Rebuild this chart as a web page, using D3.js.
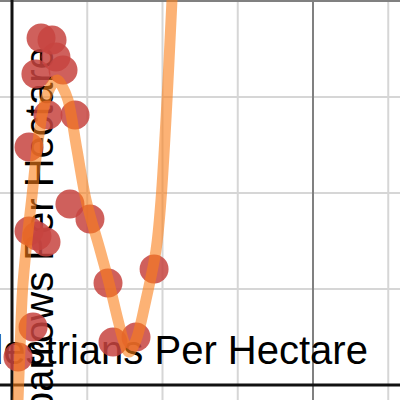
<!DOCTYPE html>
<html>
<head>
<meta charset="utf-8">
<script src="https://cdn.jsdelivr.net/npm/d3@7"></script>
<style>
  body { margin: 0; background: #fff; }
  svg { display: block; }
  .axisLabel { font-family: "Liberation Sans", Arial, sans-serif; font-size: 40px; fill: #000; }
</style>
</head>
<body>
<div id="chart"></div>
<script>
var width = 400;
var height = 400;

// observations
var pedestrians = [1.93, 2.66, 2.92, 3.39, 1.59, 2.39, 4.19, 1.13, 3.85, 5.18, 1.13, 1.66, 2.26, 6.38, 9.44, 1.40, 0.40, 6.71, 8.24];
var sparrows    = [18.07, 17.97, 17.08, 16.41, 16.20, 14.06, 14.06, 12.40, 9.43, 8.65, 8.02, 7.76, 7.45, 5.31, 6.04, 3.02, 1.46, 2.24, 2.50];

// regression curve, points
var fitX = [0.36, 0.40, 0.53, 0.70, 1.00, 1.30, 1.66, 2.06, 2.52, 2.99, 3.39, 3.72, 4.32, 4.92, 5.85, 6.45, 7.04, 7.44, 7.77, 8.24, 8.90, 9.57, 9.90, 10.30, 10.63, 10.73];
var fitY = [-2.0, -0.78, 1.82, 4.95, 7.55, 9.64, 12.24, 14.32, 15.47, 15.89, 15.47, 14.84, 12.24, 9.64, 7.03, 5.31, 3.39, 2.24, 1.72, 2.34, 4.43, 7.03, 9.64, 14.84, 20.05, 21.6];

var minorTicks = [-5, 5, 10, 15, 25];
var majorTicks = [20];

var xLabel = "Pedestrians Per Hectare";
var yLabel = "Sparrows Per Hectare";

var x = d3.scaleLinear().domain([0, 20]).range([12, 313]);
var y = d3.scaleLinear().domain([0, 20]).range([385, 1]);

var svg = d3.select("#chart").append("svg")
  .attr("width", width)
  .attr("height", height)

// grid
var grid = svg.append("g").attr("class", "grid")
grid.selectAll(".minorX").data(minorTicks).enter().append("line")
  .attr("x1", function(d){ return x(d) }).attr("x2", function(d){ return x(d) })
  .attr("y1", 0).attr("y2", height)
  .attr("stroke", "#d6d6d6").attr("stroke-width", 2)
grid.selectAll(".minorY").data(minorTicks).enter().append("line")
  .attr("y1", function(d){ return y(d) }).attr("y2", function(d){ return y(d) })
  .attr("x1", 0).attr("x2", width)
  .attr("stroke", "#d6d6d6").attr("stroke-width", 2)
grid.selectAll(".majorX").data(majorTicks).enter().append("line")
  .attr("x1", function(d){ return x(d) }).attr("x2", function(d){ return x(d) })
  .attr("y1", 0).attr("y2", height)
  .attr("stroke", "#808080").attr("stroke-width", 2)
grid.selectAll(".majorY").data(majorTicks).enter().append("line")
  .attr("y1", function(d){ return y(d) }).attr("y2", function(d){ return y(d) })
  .attr("x1", 0).attr("x2", width)
  .attr("stroke", "#808080").attr("stroke-width", 2)

// axes
svg.append("line")
  .attr("x1", x(0)).attr("x2", x(0))
  .attr("y1", 0).attr("y2", height)
  .attr("stroke", "#111").attr("stroke-width", 3)
svg.append("line")
  .attr("x1", 0).attr("x2", width)
  .attr("y1", y(0)).attr("y2", y(0))
  .attr("stroke", "#111").attr("stroke-width", 3)

svg.append("text")
  .attr("class", "axisLabel")
  .attr("x", 150)
  .attr("y", 364)
  .attr("text-anchor", "middle")
  .text(xLabel)

svg.append("text")
  .attr("class", "axisLabel")
  .attr("transform", "translate(53,244) rotate(-90)")
  .attr("text-anchor", "middle")
  .text(yLabel)

// points
svg.selectAll(".dot")
  .data(d3.range(pedestrians.length))
  .enter().append("circle")
    .attr("class", "dot")
    .attr("cx", function(i){ return x(pedestrians[i]) })
    .attr("cy", function(i){ return y(sparrows[i]) })
    .attr("r", 14.5)
    .attr("fill", "#c74440")
    .attr("fill-opacity", 0.85)

// fit
var line = d3.line()
  .x(function(i){ return x(fitX[i]) })
  .y(function(i){ return y(fitY[i]) })
  .curve(d3.curveCatmullRom.alpha(0.5))

svg.append("path")
  .attr("d", line(d3.range(fitX.length)))
  .attr("fill", "none")
  .attr("stroke", "#fa7e19")
  .attr("stroke-opacity", 0.6)
  .attr("stroke-width", 11)
  .attr("stroke-linecap", "round")
</script>
</body>
</html>
